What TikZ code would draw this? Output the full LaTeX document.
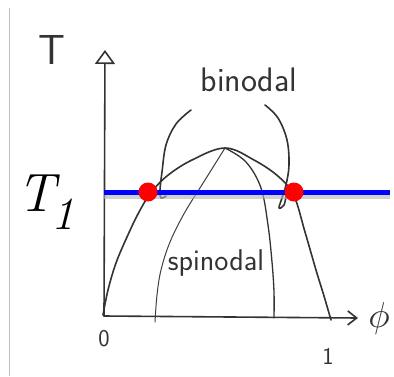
\documentclass[tikz,border=0pt]{standalone}
\usetikzlibrary{arrows.meta}
\begin{document}
\begin{tikzpicture}[x=1pt,y=-1pt,
  ink/.style={draw=black!80,line width=1.6pt,line cap=round,line join=round},
  thinink/.style={draw=black!75,line width=1pt,line cap=round},
  hand/.style={text=black!80,font=\sffamily\fontsize{#1}{#1}\selectfont,inner sep=0pt},
  dot/.style={circle,fill=red,minimum size=19pt,inner sep=0pt}]
\useasboundingbox (0,0) rectangle (394,376);
\fill[white] (0,0) rectangle (394,376);
% frame line
\draw[black!25,line width=0.8pt] (9.5,8) -- (9.5,376);
% axes
\coordinate (O) at (104,316);
\coordinate (Ytop) at (105,50);
\coordinate (Xend) at (358,318);
\draw[ink,-{Triangle[open,length=14pt,width=20pt,line width=1.6pt]}] (O) -- (Ytop);
\draw[ink,-{Straight Barb[length=9pt,width=14pt]}] (O) -- (Xend);
% binodal curve
\draw[ink] plot[smooth,tension=0.6] coordinates {(103,315) (108,290) (116,263) (127,237) (138,214) (150,194) (167,176) (192,160) (225,148) (254,160) (279,177) (294,196) (305,232) (316,270) (324,296) (331,320)};
% spinodal curve
\draw[thinink] plot[smooth,tension=0.6] coordinates {(225,148) (205,180) (185,212) (170,242) (161,270) (157,295) (155,322)};
\draw[ink,line width=1.3pt] plot[smooth,tension=0.6] coordinates {(225,148) (246,162) (261,188) (268,225) (272,262) (274,292) (274,318)};
% binodal arcs
\draw[ink] plot[smooth,tension=0.6] coordinates {(191,110) (176,124) (166,145) (162,172) (160,190) (161,198) (166,196)};
\draw[ink] plot[smooth,tension=0.6] coordinates {(265,105) (278,118) (287,140) (289,165) (286,185) (282,198) (279,208) (284,205) (286,196)};
% blue line with shadow
\draw[black!30,line width=4pt,opacity=0.6] (104,197) -- (390,197);
\node (Tone) at (36,193) [inner sep=0pt,font=\fontsize{54}{54}\selectfont\itshape] {T};
\node (sub) at (63,214) [inner sep=0pt,font=\fontsize{46}{46}\selectfont\itshape] {1};
\coordinate (B1) at (104,192);
\coordinate (B2) at (390,192);
\draw[blue,line width=5pt] (B1) -- (B2);
\node[dot] (p1) at (148,192) {};
\node[dot] (p2) at (294,192) {};
% labels
\node[hand=42] (Tlab) at (52,50) {T};
\node[hand=34] (bin) at (249,80) {binodal};
\node[hand=30] (spin) at (216,263) {spinodal};
\node[hand=24] (zero) at (104,339) {0};
\node[hand=24] (one) at (328,356) {1};
\node[text=black!80,inner sep=0pt] (phi) at (379,318) {\scalebox{3.6}{$\phi$}};
\end{tikzpicture}
\end{document}
